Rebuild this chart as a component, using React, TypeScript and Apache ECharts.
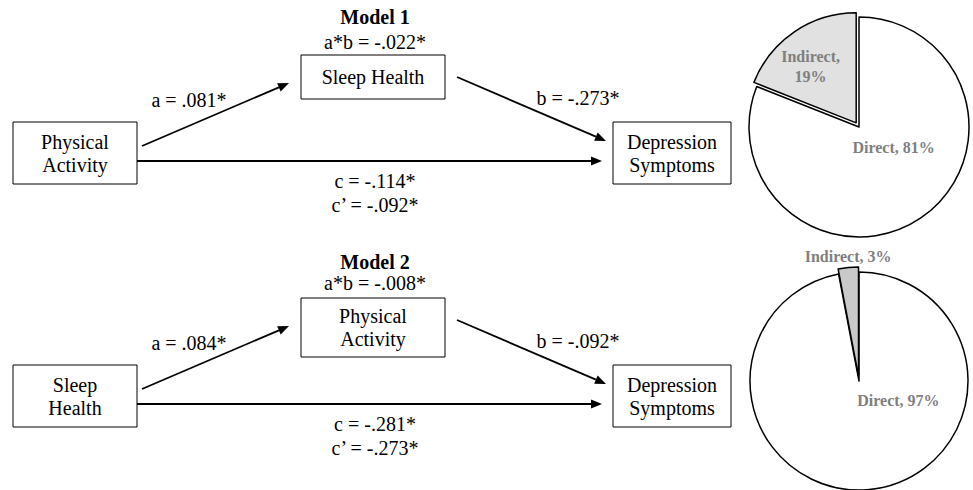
import React, { useEffect, useRef } from "react";
import * as echarts from "echarts";

// ---- data ----
const modelTitles = ["Model 1", "Model 2"];
const predictors = ["Physical\nActivity", "Sleep\nHealth"];
const mediators = ["Sleep Health", "Physical\nActivity"];
const outcomes = ["Depression\nSymptoms", "Depression\nSymptoms"];
const abLabels = ["a*b = -.022*", "a*b = -.008*"];
const aLabels = ["a = .081*", "a = .084*"];
const bLabels = ["b = -.273*", "b = -.092*"];
const cLabels = ["c = -.114*", "c = -.281*"];
const cPrimeLabels = ["c\u2019 = -.092*", "c\u2019 = -.273*"];
const sliceNames = ["Direct", "Indirect"];
const directPct = [81, 97];
const indirectPct = [19, 3];

const FONT = "Liberation Serif";

function arrow(x1: number, y1: number, x2: number, y2: number): any[] {
  const L = 11;
  const W = 4.5;
  const a = Math.atan2(y2 - y1, x2 - x1);
  const c = Math.cos(a);
  const s = Math.sin(a);
  const bx = x2 - L * c;
  const by = y2 - L * s;
  return [
    { type: "line", shape: { x1, y1, x2: bx, y2: by }, style: { stroke: "#000", lineWidth: 1.8 } },
    {
      type: "polygon",
      shape: { points: [[x2, y2], [bx - W * s, by + W * c], [bx + W * s, by - W * c]] },
      style: { fill: "#000" },
    },
  ];
}

function box(x: number, y: number, w: number, h: number, label: string): any[] {
  return [
    { type: "rect", shape: { x, y, width: w, height: h }, style: { fill: "#fff", stroke: "#000", lineWidth: 1 } },
    {
      type: "text",
      style: {
        text: label,
        x: x + w / 2,
        y: y + h / 2,
        align: "center",
        verticalAlign: "middle",
        fontFamily: FONT,
        fontSize: 20,
        lineHeight: 23,
        fill: "#000",
      },
    },
  ];
}

function txt(x: number, y: number, t: string, bold = false): any {
  return {
    type: "text",
    style: {
      text: t,
      x,
      y,
      align: "center",
      verticalAlign: "middle",
      fontFamily: FONT,
      fontSize: 20,
      fontWeight: bold ? "bold" : "normal",
      fill: "#000",
    },
  };
}

export default function App() {
  const ref = useRef<HTMLDivElement>(null);
  useEffect(() => {
    document.body.style.margin = "0";
    const chart = echarts.init(ref.current!, null, { renderer: "svg" });

    const offsets = [0, 243];
    const medH = [44, 59];
    const titleY = [17, 19];
    const abY = [42, 40];
    const graphics: any[] = [];
    modelTitles.forEach((title, i) => {
      const o = offsets[i];
      graphics.push(txt(375, o + titleY[i], title, true));
      graphics.push(txt(375, o + abY[i], abLabels[i]));
      graphics.push(...box(13, o + 122, 124, 62, predictors[i]));
      graphics.push(...box(301, o + 55, 144, medH[i], mediators[i]));
      graphics.push(...box(613, o + 122, 118, 62, outcomes[i]));
      graphics.push(...arrow(142, o + 146, 289, o + 83));
      graphics.push(...arrow(457, o + 77, 606, o + 141));
      graphics.push(...arrow(137, o + 161, 602, o + 161));
      graphics.push(txt(189, o + 100, aLabels[i]));
      graphics.push(txt(578, o + 98, bLabels[i]));
      graphics.push(txt(375, o + 181, cLabels[i]));
      graphics.push(txt(375, o + 205, cPrimeLabels[i]));
    });

    const indirectFill = ["#e1e1e1", "#c9c9c9"];
    const centers = [[859, 127], [859, 381]];
    const radii = [110, 109];
    const labelShift = [
      [[2, -27], [-13, -8]],
      [[34, -38], [-5, -62]],
    ];

    const series = directPct.map((d, i) => ({
      type: "pie",
      center: centers[i],
      radius: radii[i],
      startAngle: 90,
      clockwise: true,
      selectedMode: "single",
      selectedOffset: 5,
      avoidLabelOverlap: false,
      silent: true,
      emphasis: { disabled: true },
      labelLine: { show: false },
      label: {
        show: true,
        position: "inside",
        fontFamily: FONT,
        fontWeight: "bold",
        fontSize: 16,
        lineHeight: 20,
        color: "#7f7f7f",
        formatter: (p: any) =>
          i === 0 && p.dataIndex === 1 ? `${p.name},\n${p.value}%` : `${p.name}, ${p.value}%`,
      },
      labelLayout: (p: any) => ({ dx: labelShift[i][p.dataIndex][0], dy: labelShift[i][p.dataIndex][1] }),
      itemStyle: { borderColor: "#000", borderWidth: 1.5 },
      data: [
        { name: sliceNames[0], value: d, itemStyle: { color: "#ffffff" } },
        {
          name: sliceNames[1],
          value: indirectPct[i],
          selected: true,
          itemStyle: { color: indirectFill[i] },
          select: { itemStyle: { color: indirectFill[i], borderColor: "#000", borderWidth: 1.5 } },
        },
      ],
    }));

    chart.setOption({
      animation: false,
      backgroundColor: "#ffffff",
      graphic: { elements: graphics },
      series,
    });
    return () => chart.dispose();
  }, []);
  return <div ref={ref} style={{ width: 973, height: 490 }} />;
}
